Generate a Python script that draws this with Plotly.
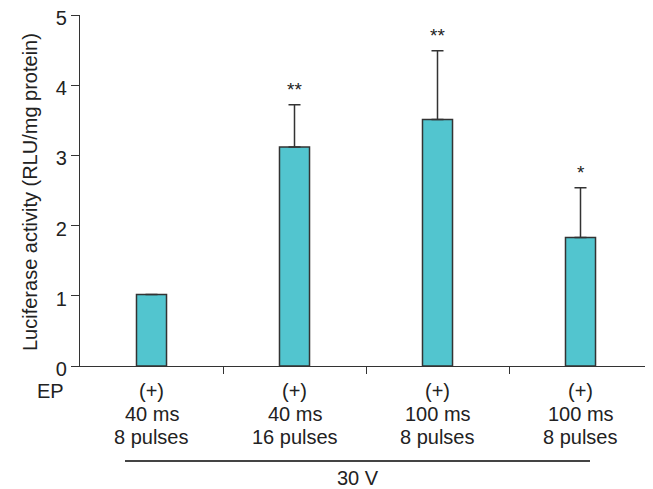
import plotly.graph_objects as go

categories = ["40 ms, 8 pulses", "40 ms, 16 pulses", "100 ms, 8 pulses", "100 ms, 8 pulses"]
ep_labels = ["(+)", "(+)", "(+)", "(+)"]
duration_labels = ["40 ms", "40 ms", "100 ms", "100 ms"]
pulse_labels = ["8 pulses", "16 pulses", "8 pulses", "8 pulses"]
values = [1.02, 3.12, 3.51, 1.83]
errors = [0.0, 0.60, 0.98, 0.71]
significance = ["", "**", "**", "*"]
y_ticks = [0, 1, 2, 3, 4, 5]

xpos = list(range(len(categories)))
FONT = "Liberation Sans, Arial, sans-serif"
DARK = "#333333"
TXT = "#222222"
FS = 20

# plot area in page pixels (page has an 8px body margin)
PX0, PX1, PY0, PY1 = 80, 652, 15, 366


def px_to_paper_x(px):
    return (px - PX0) / (PX1 - PX0)


def py_to_paper_y(py):
    return (PY1 - py) / (PY1 - PY0)


fig = go.Figure()
fig.add_trace(go.Bar(
    x=xpos, y=values, width=0.21,
    marker=dict(color="#52C5CF", line=dict(color=DARK, width=1.5)),
    error_y=dict(type="data", symmetric=False, array=errors,
                 arrayminus=[0] * len(errors), color=DARK, thickness=1.5, width=6),
    hoverinfo="skip",
))

annotations = []
for i, (v, e, s) in enumerate(zip(values, errors, significance)):
    if s:
        annotations.append(dict(x=i, y=v + e, text=s, showarrow=False, yanchor="bottom",
                                yshift=3, font=dict(size=19, color=TXT, family=FONT)))
row_y = [391, 414, 437]
for i in xpos:
    for lab, py in zip([ep_labels[i], duration_labels[i], pulse_labels[i]], row_y):
        annotations.append(dict(x=i, xref="x", y=py_to_paper_y(py), yref="paper",
                                text=lab, showarrow=False, yanchor="middle",
                                font=dict(size=FS, color=TXT, family=FONT)))

annotations.append(dict(x=px_to_paper_x(50), xref="paper", y=py_to_paper_y(391), yref="paper",
                        text="EP", showarrow=False, xanchor="center", yanchor="middle",
                        font=dict(size=FS, color=TXT, family=FONT)))
annotations.append(dict(x=px_to_paper_x(358), xref="paper", y=py_to_paper_y(478), yref="paper",
                        text="30 V", showarrow=False, xanchor="center", yanchor="middle",
                        font=dict(size=FS, color=TXT, family=FONT)))
annotations.append(dict(x=px_to_paper_x(30), xref="paper", y=py_to_paper_y(192), yref="paper",
                        text="Luciferase activity (RLU/mg protein)", textangle=-90,
                        xanchor="center", yanchor="middle",
                        showarrow=False, font=dict(size=FS, color=TXT, family=FONT)))

fig.update_layout(
    width=645, height=481,
    margin=dict(l=PX0 - 8, r=653 - PX1, t=PY0 - 8, b=489 - PY1),
    paper_bgcolor="white", plot_bgcolor="white",
    showlegend=False,
    annotations=annotations,
    shapes=[dict(type="line", xref="paper", yref="paper",
                 x0=px_to_paper_x(125), x1=px_to_paper_x(590),
                 y0=py_to_paper_y(461), y1=py_to_paper_y(461),
                 line=dict(color="#444", width=1.8))],
    xaxis=dict(range=[-0.5, 3.5], tickvals=[0.5, 1.5, 2.5, 3.5], ticktext=["", "", "", ""],
               ticks="outside", ticklen=7, tickwidth=1.2, tickcolor=DARK,
               showline=True, linecolor=DARK, linewidth=1.2, showgrid=False, zeroline=False,
               automargin=False, fixedrange=True),
    yaxis=dict(range=[0, 5], tickvals=y_ticks, ticks="outside", ticklen=8, tickwidth=1.2,
               tickcolor=DARK, showline=True, linecolor=DARK, linewidth=1.2, showgrid=False,
               zeroline=False, tickfont=dict(size=FS, color=TXT, family=FONT),
               ticklabeloverflow="allow", ticklabelshift=3, automargin=False,
               fixedrange=True),
)
fig.write_html("out.html")
